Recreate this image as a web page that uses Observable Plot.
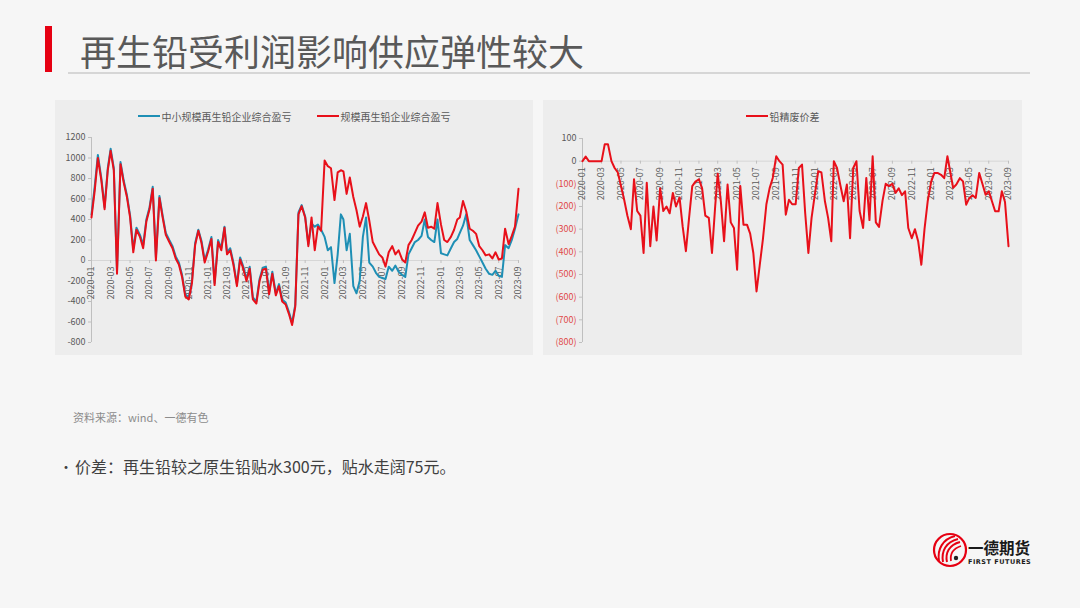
<!DOCTYPE html>
<html><head><meta charset="utf-8">
<script src="https://cdn.jsdelivr.net/npm/d3@7"></script>
<script src="https://cdn.jsdelivr.net/npm/@observablehq/plot@0.6"></script>
<style>
html,body{margin:0;padding:0;}
body{width:1080px;height:608px;background:#f6f6f6;position:relative;overflow:hidden;font-family:"Noto Sans CJK SC","Noto Sans",sans-serif;}
.abs{position:absolute;white-space:nowrap;}
.panel{position:absolute;top:100px;height:255px;background:#ededed;}
.legend{height:26px;padding-top:6px;box-sizing:border-box;display:flex;justify-content:center;align-items:center;font-size:10px;color:#595959;gap:25px;}
.legend span.item{display:flex;align-items:center;}
.sw{display:inline-block;width:22px;height:2px;margin-right:2px;}
</style></head><body>

<div class="abs" style="left:45px;top:26px;width:7px;height:46px;background:#e60012;"></div>
<div class="abs" id="title" style="left:80px;top:30px;font-size:36px;line-height:40px;color:#595959;"></div>
<div class="abs" style="left:68px;top:72px;width:962px;height:1.5px;background:#d6d6d6;"></div>

<div class="panel" id="leftPanel" style="left:55px;width:478px;"></div>
<div class="panel" id="rightPanel" style="left:543px;width:479px;"></div>

<div class="abs" id="source" style="left:73px;top:409px;font-size:11px;line-height:16px;color:#8c8c8c;"></div>
<div class="abs" style="left:59px;top:455px;font-size:14px;line-height:22px;color:#404040;">•</div>
<div class="abs" id="note" style="left:75px;top:455px;font-size:16px;line-height:22px;color:#404040;"></div>

<svg class="abs" style="left:931px;top:531px;" width="38" height="38" viewBox="0 0 38 38">
  <circle cx="19" cy="19" r="16" fill="none" stroke="#e60012" stroke-width="2.2"/>
  <path d="M8 30 C 6 18, 12 8, 24 5" fill="none" stroke="#e60012" stroke-width="2"/>
  <path d="M12 31 C 10 20, 15 11, 27 8" fill="none" stroke="#e60012" stroke-width="2"/>
  <path d="M16 31 C 14 22, 18 14, 29 11" fill="none" stroke="#e60012" stroke-width="2"/>
  <path d="M20 30 C 19 24, 21 18, 30 15" fill="none" stroke="#e60012" stroke-width="1.8"/>
  <circle cx="25" cy="27" r="2.2" fill="#222"/>
</svg>
<div class="abs" id="logoCn" style="left:968px;top:539px;font-size:15.5px;line-height:17px;font-weight:bold;color:#1a1a1a;"></div>
<div class="abs" id="logoEn" style="left:968px;top:558px;font-size:6.5px;line-height:8px;font-weight:bold;color:#1a1a1a;letter-spacing:0.5px;font-family:'DejaVu Sans',sans-serif;"></div>

<script>
// ---------- texts ----------
const titleText = "再生铅受利润影响供应弹性较大";
const sourceText = "资料来源：wind、一德有色";
const noteText = "价差：再生铅较之原生铅贴水300元，贴水走阔75元。";
const logoCnText = "一德期货";
const logoEnText = "FIRST FUTURES";

// ---------- axes ----------
const xTickLabels = ["2020-01","2020-03","2020-05","2020-07","2020-09","2020-11",
  "2021-01","2021-03","2021-05","2021-07","2021-09","2021-11",
  "2022-01","2022-03","2022-05","2022-07","2022-09","2022-11",
  "2023-01","2023-03","2023-05","2023-07","2023-09"];
const leftYTicks = [-800,-600,-400,-200,0,200,400,600,800,1000,1200];
const rightYTicks = [-800,-700,-600,-500,-400,-300,-200,-100,0,100];

// ---------- series (three readings per month: days 1, 11, 21; from 2020-01) ----------
const leftSeriesNames = ["中小规模再生铅企业综合盈亏","规模再生铅企业综合盈亏"];
const rightSeriesName = "铅精废价差";

const smallProfit = [
  450, 720, 1030,   // 2020-01
  800, 520, 900,    // 2020-02
  1090, 900, -100,  // 2020-03
  960, 780, 640,    // 2020-04
  440, 110, 320,    // 2020-05
  250, 150, 400,    // 2020-06
  520, 720, 30,     // 2020-07
  630, 440, 270,    // 2020-08
  200, 140, 40,     // 2020-09
  -20, -140, -330,  // 2020-10
  -360, -200, 170,  // 2020-11
  300, 190, 0,      // 2020-12
  110, 230, -220,   // 2021-01
  200, 120, 330,    // 2021-02
  80, 120, -20,     // 2021-03
  -230, 30, -60,    // 2021-04
  -180, -60, -360,  // 2021-05
  -400, -180, -70,  // 2021-06
  -60, -310, -110,  // 2021-07
  -320, -230, -380, // 2021-08
  -410, -500, -610, // 2021-09
  -430, 470, 540,   // 2021-10
  430, 160, 360,    // 2021-11
  330, 350, 300,    // 2021-12
  230, 100, 130,    // 2022-01
  -220, 60, 450,    // 2022-02
  400, 100, 260,    // 2022-03
  -250, -320, -200, // 2022-04
  230, 420, -20,    // 2022-05
  -60, -120, -160,  // 2022-06
  -170, -180, -60,  // 2022-07
  -100, -50, -110,  // 2022-08
  -140, -160, 60,   // 2022-09
  120, 180, 200,    // 2022-10
  240, 400, 230,    // 2022-11
  200, 180, 400,    // 2022-12
  70, 60, 50,       // 2023-01
  120, 180, 210,    // 2023-02
  270, 340, 450,    // 2023-03
  200, 150, 100,    // 2023-04
  40, -20, -80,     // 2023-05
  -130, -140, -100, // 2023-06
  -150, -160, 150,  // 2023-07
  120, 200, 310,    // 2023-08
  450               // 2023-09
];

const bigProfit = [
  420, 680, 1000,   // 2020-01
  780, 500, 880,    // 2020-02
  1070, 880, -130,  // 2020-03
  940, 760, 620,    // 2020-04
  420, 80, 300,     // 2020-05
  230, 120, 380,    // 2020-06
  500, 700, 0,      // 2020-07
  610, 420, 250,    // 2020-08
  180, 120, 20,     // 2020-09
  -40, -160, -350,  // 2020-10
  -380, -220, 150,  // 2020-11
  290, 170, -20,    // 2020-12
  90, 210, -240,    // 2021-01
  180, 100, 320,    // 2021-02
  60, 100, -40,     // 2021-03
  -250, 10, -80,    // 2021-04
  -200, -80, -380,  // 2021-05
  -420, -200, -90,  // 2021-06
  -80, -330, -130,  // 2021-07
  -340, -250, -400, // 2021-08
  -430, -520, -630, // 2021-09
  -450, 450, 530,   // 2021-10
  420, 140, 420,    // 2021-11
  100, 330, 290,    // 2021-12
  975, 920, 900,    // 2022-01
  590, 860, 880,    // 2022-02
  870, 650, 810,    // 2022-03
  620, 490, 330,    // 2022-04
  430, 560, 390,    // 2022-05
  180, 120, 60,     // 2022-06
  30, -60, 80,      // 2022-07
  140, 60, 100,     // 2022-08
  10, -20, 150,     // 2022-09
  200, 270, 340,    // 2022-10
  380, 470, 320,    // 2022-11
  330, 310, 560,    // 2022-12
  350, 200, 180,    // 2023-01
  230, 300, 400,    // 2023-02
  420, 580, 480,    // 2023-03
  310, 290, 260,    // 2023-04
  140, 100, 50,     // 2023-05
  60, 20, 80,       // 2023-06
  10, 20, 310,      // 2023-07
  160, 240, 330,    // 2023-08
  700               // 2023-09
];

const leadSpread = [
  0, 20, 0,          // 2020-01
  0, 0, 0,           // 2020-02
  0, 75, 75,         // 2020-03
  0, -30, -50,       // 2020-04
  -110, -170, -240,  // 2020-05
  -300, -80, -220,   // 2020-06
  -240, -405, -95,   // 2020-07
  -375, -200, -350,  // 2020-08
  -120, -220, -200,  // 2020-09
  -230, -140, -200,  // 2020-10
  -160, -290, -397,  // 2020-11
  -250, -110, -90,   // 2020-12
  -80, -120, -240,   // 2021-01
  -250, -405, -200,  // 2021-02
  -55, -180, -353,   // 2021-03
  -103, -270, -295,  // 2021-04
  -479, -110, -280,  // 2021-05
  -280, -320, -405,  // 2021-06
  -575, -460, -345,  // 2021-07
  -190, -120, -74,   // 2021-08
  22, 0, -15,        // 2021-09
  -236, -170, -190,  // 2021-10
  -190, -30, -15,    // 2021-11
  -230, -405, -250,  // 2021-12
  -140, -44, -50,    // 2022-01
  -177, -250, -353,  // 2022-02
  0, -30, -103,      // 2022-03
  -177, -103, -340,  // 2022-04
  -30, 0, -220,      // 2022-05
  -295, -74, -260,   // 2022-06
  22, -270, -290,    // 2022-07
  -175, -100, -110,  // 2022-08
  -100, -140, -120,  // 2022-09
  -150, -133, -295,  // 2022-10
  -340, -300, -353,  // 2022-11
  -457, -300, -177,  // 2022-12
  -90, -52, -52,     // 2023-01
  -60, -75, 22,      // 2023-02
  -40, -118, -103,   // 2023-03
  -75, -89, -192,    // 2023-04
  -162, -150, -162,  // 2023-05
  -52, -100, -148,   // 2023-06
  -133, -177, -221,  // 2023-07
  -221, -133, -180,  // 2023-08
  -375               // 2023-09
];

// ---------- colours ----------
const TEAL = "#1e8fb5";
const RED = "#e8101a";
const AXIS = "#bfbfbf";
const LABEL = "#595959";
const NEG_LABEL = "#e04848";

document.getElementById("title").textContent = titleText;
document.getElementById("source").textContent = sourceText;
document.getElementById("note").textContent = noteText;
document.getElementById("logoCn").textContent = logoCnText;
document.getElementById("logoEn").textContent = logoEnText;

const parseMonth = d3.timeParse("%Y-%m");
const xTicks = xTickLabels.map(parseMonth);
const xDomain = [xTicks[0], xTicks[xTicks.length - 1]];
function rows(values) {
  return values.map((v, k) => ({date: new Date(2020, Math.floor(k / 3), 1 + 10 * (k % 3)), value: v}));
}

function legend(items) {
  const div = document.createElement("div");
  div.className = "legend";
  for (const [name, color] of items) {
    const it = document.createElement("span");
    it.className = "item";
    const sw = document.createElement("span");
    sw.className = "sw";
    sw.style.background = color;
    const tx = document.createElement("span");
    tx.textContent = name;
    it.appendChild(sw); it.appendChild(tx);
    div.appendChild(it);
  }
  return div;
}

function chart({width, marginLeft, marginRight, marginTop, yDomain, yTicks, yFormat, negColor, series}) {
  const x0 = xDomain[0];
  const pos = yTicks.filter(d => d >= 0);
  const neg = yTicks.filter(d => d < 0);
  return Plot.plot({
    width, height: 229,
    marginLeft, marginRight, marginTop, marginBottom: 13,
    style: {background: "transparent", fontFamily: '"Noto Sans CJK SC","Noto Sans",sans-serif', fontSize: "9px", overflow: "visible"},
    x: {type: "time", domain: xDomain, axis: null},
    y: {domain: yDomain, axis: null},
    marks: [
      Plot.ruleY([0], {stroke: "#d6d6d6", strokeWidth: 1}),
      Plot.ruleX(xTicks, {x: d => d, y1: 0, y2: 0, insetBottom: -3, stroke: AXIS}),
      Plot.ruleX([x0], {y1: yDomain[0], y2: yDomain[1], stroke: AXIS}),
      Plot.ruleY(yTicks, {y: d => d, x1: x0, x2: x0, insetLeft: -3, stroke: AXIS}),
      Plot.text(pos, {x: x0, y: d => d, text: yFormat, textAnchor: "end", dx: -6, fill: LABEL}),
      Plot.text(neg, {x: x0, y: d => d, text: yFormat, textAnchor: "end", dx: -6, fill: negColor}),
      Plot.text(xTickLabels, {x: d => parseMonth(d), y: 0, text: d => d, rotate: -90, textAnchor: "end", lineAnchor: "middle", dy: 6, fill: LABEL}),
      ...series.map(([vals, color]) => Plot.line(rows(vals), {x: "date", y: "value", stroke: color, strokeWidth: 2, strokeLinejoin: "round"}))
    ]
  });
}

const lp = document.getElementById("leftPanel");
lp.appendChild(legend([[leftSeriesNames[0], TEAL], [leftSeriesNames[1], RED]]));
lp.appendChild(chart({
  width: 478, marginLeft: 36, marginRight: 15, marginTop: 11,
  yDomain: [-800, 1200], yTicks: leftYTicks, yFormat: d => String(d), negColor: LABEL,
  series: [[smallProfit, TEAL], [bigProfit, RED]]
}));

const rp = document.getElementById("rightPanel");
rp.appendChild(legend([[rightSeriesName, RED]]));
rp.appendChild(chart({
  width: 479, marginLeft: 39, marginRight: 14, marginTop: 12,
  yDomain: [-800, 100], yTicks: rightYTicks, yFormat: d => d < 0 ? `(${-d})` : String(d), negColor: NEG_LABEL,
  series: [[leadSpread, RED]]
}));
</script>
</body></html>
